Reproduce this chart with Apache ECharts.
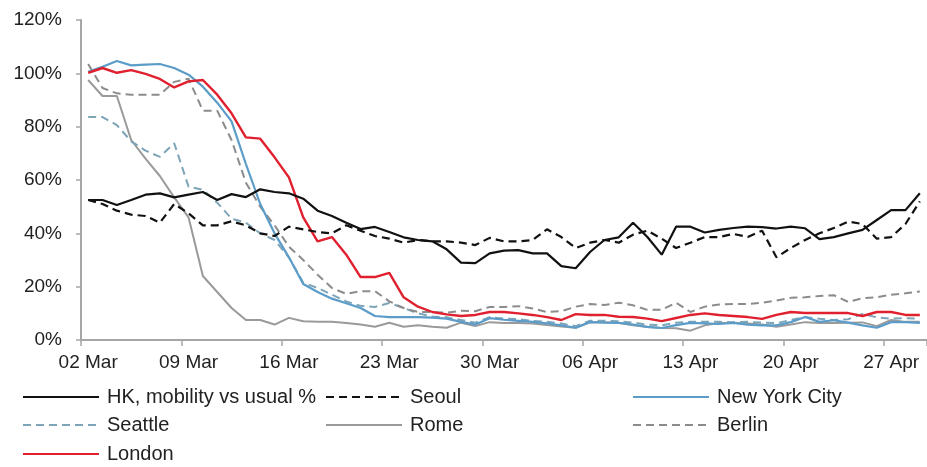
<!DOCTYPE html>
<html>
<head>
<meta charset="utf-8">
<script src="https://cdn.jsdelivr.net/npm/echarts@6/dist/echarts.min.js"></script>
<style>
html,body{margin:0;padding:0;background:#fff;}
#chart{width:927px;height:467px;}
</style>
</head>
<body>
<div id="chart"></div>
<script>
const categories = ["02 Mar","03 Mar","04 Mar","05 Mar","06 Mar","07 Mar","08 Mar","09 Mar","10 Mar","11 Mar","12 Mar","13 Mar","14 Mar","15 Mar","16 Mar","17 Mar","18 Mar","19 Mar","20 Mar","21 Mar","22 Mar","23 Mar","24 Mar","25 Mar","26 Mar","27 Mar","28 Mar","29 Mar","30 Mar","31 Mar","01 Apr","02 Apr","03 Apr","04 Apr","05 Apr","06 Apr","07 Apr","08 Apr","09 Apr","10 Apr","11 Apr","12 Apr","13 Apr","14 Apr","15 Apr","16 Apr","17 Apr","18 Apr","19 Apr","20 Apr","21 Apr","22 Apr","23 Apr","24 Apr","25 Apr","26 Apr","27 Apr","28 Apr","29 Apr"];

const yTicks = [0, 20, 40, 60, 80, 100, 120];

const hk = [52.5,52.5,50.6,52.5,54.5,55,53.5,54.5,55.5,52.5,54.7,53.6,56.5,55.5,55,53,48.5,46.5,44,41.6,42.4,40.5,38.5,37.5,37,34,29,28.8,32.5,33.5,33.7,32.5,32.5,27.7,26.9,33,37.5,38.5,44,38.6,32,42.5,42.5,40.3,41.3,42,42.5,42.3,41.8,42.5,41.9,37.8,38.6,40,41.3,45,48.7,48.7,55];
const seoul = [52.5,51,48.5,47,46.5,44,51,47.5,43,43,44.5,43,40,39,42.5,41.5,40.5,40,43,41,39,38,36.5,37.5,37,37,36.5,35.6,38.3,37,37,37.5,41.5,38.6,34.5,36.5,37.5,36.5,39.5,41,38,34.5,36.5,38.6,38.6,39.8,38.6,41,31,34.5,37.5,40,42,44.4,43.5,38,38.6,43.5,52];
const nyc = [100.6,102.5,104.6,103,103.3,103.5,102,99.5,95,89,82,66,51,40,31,21,18,15.5,13.8,12,9,8.6,8.6,8.6,8.4,8,6.8,5.8,8.2,7.6,7.2,6.8,6.2,5.5,4.6,6.7,6.5,6.4,5.8,4.9,4.5,5.6,6.4,6.2,6,6.4,5.8,5.5,5.5,6.7,8.6,6.8,7.4,6.5,5.5,4.6,6.7,6.7,6.4];
const seattle = [83.6,83.6,80.6,74.5,71,68.7,73.8,57.5,56.3,51.5,45.5,44,40,37.5,31,21.5,19.5,17,14.5,12.8,12.4,13.9,12,10,8.8,8.5,7.5,6.5,8.6,8,7.8,7.2,6.8,6.2,5.2,7.2,7.2,7,6.5,5.8,5.5,6.5,6.8,6.8,6.8,6.7,6.8,6.5,6.3,7.5,8.6,8,7.5,7.8,9.8,8.5,8,8.2,8];
const rome = [97.5,91.5,91.5,75,68,61.5,53.5,46,24,18,12,7.5,7.5,5.8,8.3,7,6.8,6.8,6.4,5.8,5,6.5,5,5.5,5,4.6,6.5,5.2,6.7,6.4,6.4,6.2,5.6,5.1,4.6,6.7,6.7,6.5,5.5,4.9,4.5,4.4,3.5,5.5,6.4,6.4,6.2,5.8,5,5.8,6.7,6.4,6.4,6.5,6.6,5.2,7.5,6.8,6.8];
const berlin = [103.5,94.5,92.5,92,92,92,96.8,98,86,86,75,59,50,43,35,30,24.5,19.5,17.3,18.3,18.3,14.5,12,10.5,10.5,10.2,11,10.8,12.4,12.4,12.7,11.8,10.5,10.8,12.5,13.5,13.1,14,13,11.3,11.3,14,10.5,12.5,13.3,13.5,13.5,14,14.8,15.8,16,16.5,16.8,14.3,15.7,16,17,17.5,18.2];
const london = [100.2,102,100.2,101.2,99.8,97.9,94.7,97,97.5,92,85,76,75.5,68.5,61,46,37,38.6,32,23.6,23.6,25.2,16,12.5,10.5,9.6,9,9.4,10.5,10.5,10,9.4,8.6,7.5,9.7,9.4,9.4,8.7,8.6,8,7.1,8.25,9.4,10,9.4,9,8.6,7.9,9.4,10.5,10.1,10.1,10.1,10.1,9,10.5,10.5,9.4,9.4];

const seriesNames = ["HK, mobility vs usual %","Seoul","New York City","Seattle","Rome","Berlin","London"];

const FONT = "'Liberation Sans', Arial, sans-serif";
const dash = [8, 5];

function line(name, data, color, type, width, z) {
  return {
    name: name, type: 'line', data: data, symbol: 'none', showSymbol: false,
    z: z,
    lineStyle: { color: color, width: width, type: type },
    itemStyle: { color: color },
    emphasis: { disabled: true },
    animation: false
  };
}

const legendPos = [
  [22, 387], [325, 387], [632, 387],
  [22, 415], [325, 415], [632, 415],
  [22, 444]
];

const legends = seriesNames.map((n, i) => ({
  left: legendPos[i][0], top: legendPos[i][1],
  data: [n], itemWidth: 76, itemHeight: 14, padding: 0,
  itemStyle: { opacity: 0 },
  textStyle: { fontFamily: FONT, fontSize: 20, color: '#222', padding: [0,0,0,3] },
  selectedMode: false
}));

const chart = echarts.init(document.getElementById('chart'), null, { renderer: 'canvas' });
chart.setOption({
  backgroundColor: '#fff',
  animation: false,
  legend: legends,
  grid: { left: 81, right: -7, top: 20, bottom: 127, containLabel: false },
  xAxis: {
    type: 'category', data: categories, boundaryGap: true,
    axisLine: { lineStyle: { color: '#a6a6a6', width: 2 } },
    axisTick: { show: true, interval: 6, length: 6, inside: false, lineStyle: { color: '#a6a6a6', width: 1.5 } },
    axisLabel: { interval: 6, margin: 13, fontFamily: FONT, fontSize: 19, color: '#222' },
    splitLine: { show: false }
  },
  yAxis: {
    type: 'value', min: yTicks[0], max: yTicks[yTicks.length - 1], interval: 20,
    axisLine: { show: true, lineStyle: { color: '#a6a6a6', width: 2 } },
    axisTick: { show: true, length: 5, lineStyle: { color: '#a6a6a6', width: 1.5 } },
    axisLabel: { margin: 19, fontFamily: FONT, fontSize: 19, color: '#222', formatter: '{value}%' },
    splitLine: { show: false }
  },
  series: [
    line(seriesNames[0], hk, '#111111', 'solid', 2.2, 7),
    line(seriesNames[1], seoul, '#111111', dash, 2.2, 6),
    line(seriesNames[2], nyc, '#5b9cc8', 'solid', 2.2, 4),
    line(seriesNames[3], seattle, '#7ea4b8', dash, 2, 3),
    line(seriesNames[4], rome, '#9a9a9a', 'solid', 2, 2),
    line(seriesNames[5], berlin, '#8c8c8c', dash, 2, 3),
    line(seriesNames[6], london, '#e0202e', 'solid', 2.4, 5)
  ]
});
</script>
</body>
</html>
